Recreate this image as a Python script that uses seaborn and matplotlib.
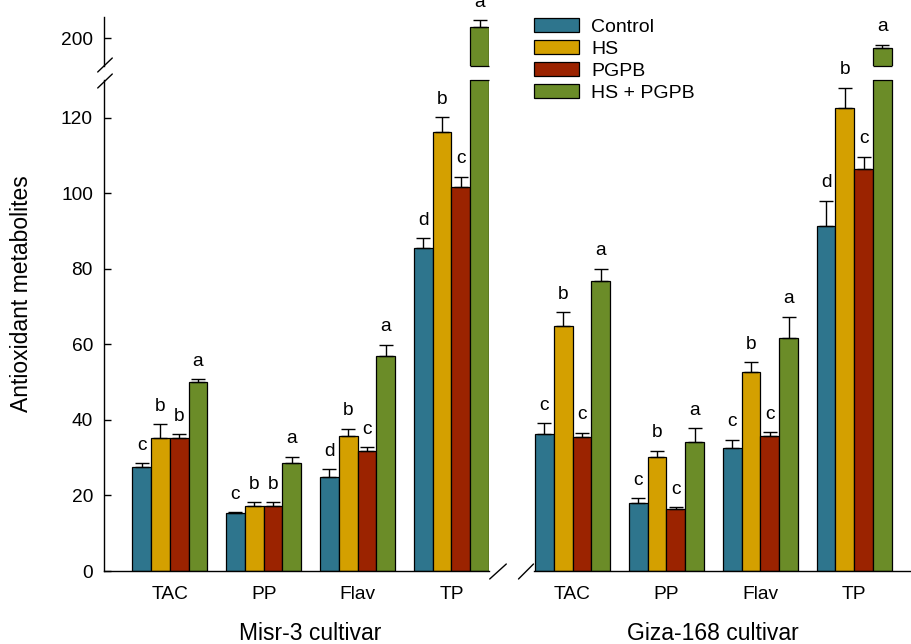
import numpy as np
import pandas as pd
import matplotlib
matplotlib.use("Agg")
import matplotlib.pyplot as plt
from matplotlib.lines import Line2D
from matplotlib.patches import Patch
import seaborn as sns

# ---------------------------------------------------------------- data
metabolites = ["TAC", "PP", "Flav", "TP"]
treatments = ["Control", "HS", "PGPB", "HS + PGPB"]
cultivars = ["Misr-3 cultivar", "Giza-168 cultivar"]

misr_control = [27.6, 15.3, 25.0, 85.5]
misr_hs = [35.3, 17.2, 35.8, 116.1]
misr_pgpb = [35.1, 17.2, 31.7, 101.8]
misr_hs_pgpb = [50.1, 28.7, 56.8, 202.9]

misr_control_se = [0.9, 0.3, 1.9, 2.6]
misr_hs_se = [3.5, 1.0, 1.9, 4.0]
misr_pgpb_se = [1.1, 1.0, 1.1, 2.6]
misr_hs_pgpb_se = [0.7, 1.6, 3.1, 1.9]

misr_control_sig = ["c", "c", "d", "d"]
misr_hs_sig = ["b", "b", "b", "b"]
misr_pgpb_sig = ["b", "b", "c", "c"]
misr_hs_pgpb_sig = ["a", "a", "a", "a"]

giza_control = [36.2, 18.1, 32.6, 91.4]
giza_hs = [64.9, 30.1, 52.7, 122.6]
giza_pgpb = [35.5, 16.4, 35.8, 106.5]
giza_hs_pgpb = [76.9, 34.1, 61.7, 197.3]

giza_control_se = [2.9, 1.15, 2.1, 6.6]
giza_hs_se = [3.6, 1.7, 2.6, 5.3]
giza_pgpb_se = [1.1, 0.5, 1.0, 3.2]
giza_hs_pgpb_se = [3.1, 3.7, 5.6, 0.9]

giza_control_sig = ["c", "c", "c", "d"]
giza_hs_sig = ["b", "b", "b", "b"]
giza_pgpb_sig = ["c", "c", "c", "c"]
giza_hs_pgpb_sig = ["a", "a", "a", "a"]

colors = ["#2E758D", "#D4A000", "#9B2300", "#6B8C28"]

series = {
    "Misr-3 cultivar": (
        [misr_control, misr_hs, misr_pgpb, misr_hs_pgpb],
        [misr_control_se, misr_hs_se, misr_pgpb_se, misr_hs_pgpb_se],
        [misr_control_sig, misr_hs_sig, misr_pgpb_sig, misr_hs_pgpb_sig],
    ),
    "Giza-168 cultivar": (
        [giza_control, giza_hs, giza_pgpb, giza_hs_pgpb],
        [giza_control_se, giza_hs_se, giza_pgpb_se, giza_hs_pgpb_se],
        [giza_control_sig, giza_hs_sig, giza_pgpb_sig, giza_hs_pgpb_sig],
    ),
}

rows = []
for cv, (vals, ses, sigs) in series.items():
    for t, v_list, s_list, g_list in zip(treatments, vals, ses, sigs):
        for m, v, s, g in zip(metabolites, v_list, s_list, g_list):
            rows.append(dict(cultivar=cv, metabolite=m, treatment=t,
                             value=v, se=s, sig=g))
df = pd.DataFrame(rows)

# ---------------------------------------------------------------- style
sns.set_style("white")
plt.rcParams["font.family"] = ["Liberation Sans", "DejaVu Sans"]
plt.rcParams.update({
    "axes.linewidth": 1.0,
    "axes.edgecolor": "black",
    "text.color": "black",
    "axes.labelcolor": "black",
    "xtick.color": "black",
    "ytick.color": "black",
})

W, H = 912, 644
fig = plt.figure(figsize=(W / 100, H / 100), dpi=100)


def rect(x0, x1, ytop, ybot):
    return [x0 / W, 1 - ybot / H, (x1 - x0) / W, (ybot - ytop) / H]


LOW_LIM = (0, 130)
HIGH_LIM = (192.6, 205.6)
panels = {
    "Misr-3 cultivar": dict(x0=104, x1=489, xlim=(-0.70, 3.40), left=True),
    "Giza-168 cultivar": dict(x0=534, x1=912, xlim=(-0.41, 3.615), left=False),
}

TICK_FS = 13.8
bar_w = 0.8 / len(treatments)

for cv, p in panels.items():
    sub = df[df.cultivar == cv]
    ax_lo = fig.add_axes(rect(p["x0"], p["x1"], 80, 571))
    ax_hi = fig.add_axes(rect(p["x0"], p["x1"], 17, 66))
    for ax, lim in ((ax_lo, LOW_LIM), (ax_hi, HIGH_LIM)):
        sns.barplot(data=sub, x="metabolite", y="value", hue="treatment",
                    order=metabolites, hue_order=treatments, palette=colors,
                    saturation=1, edgecolor="black", linewidth=0.9,
                    errorbar=None, width=0.8, legend=False, ax=ax)
        ax.set_xlim(*p["xlim"])
        ax.set_ylim(*lim)
        ax.set_xlabel("")
        ax.set_ylabel("")
        for s in ("top", "right"):
            ax.spines[s].set_visible(False)
        ax.patch.set_alpha(0)

        for j, t in enumerate(treatments):
            d = sub[sub.treatment == t].set_index("metabolite").loc[metabolites]
            xs = np.arange(len(metabolites)) + (j - 1.5) * bar_w
            v = d["value"].to_numpy()
            e = d["se"].to_numpy()
            inside = (v > lim[0]) & (v < lim[1])
            ax.errorbar(xs[inside], v[inside],
                        yerr=[np.zeros(inside.sum()), e[inside]],
                        fmt="none", ecolor="black", elinewidth=1.0,
                        capsize=5, capthick=1.0, zorder=3)
            for x, val, err, g, ok in zip(xs, v, e, d["sig"], inside):
                if ok:
                    ax.annotate(g, xy=(x, val + err), xytext=(0, 9.7),
                                textcoords="offset points", ha="center",
                                va="baseline", fontsize=TICK_FS,
                                annotation_clip=False)
            # closing edge where a tall bar is cut by the axis break
            if ax is ax_lo:
                cut = v > lim[1]
                ax.hlines([lim[1]] * cut.sum(), xs[cut] - bar_w / 2,
                          xs[cut] + bar_w / 2, colors="black",
                          linewidth=0.9, clip_on=False, zorder=3)
            else:
                cut = v > lim[0]
                ax.hlines([lim[0]] * cut.sum(), xs[cut] - bar_w / 2,
                          xs[cut] + bar_w / 2, colors="black",
                          linewidth=0.9, clip_on=False, zorder=3)

    # lower panel axes
    ax_lo.tick_params(axis="x", bottom=False, length=0, labelsize=TICK_FS,
                      pad=11)
    ax_lo.set_xticks(range(len(metabolites)))
    ax_lo.set_xticklabels(metabolites)
    ax_lo.text(1.5, -0.104, cv, transform=ax_lo.get_xaxis_transform(),
               ha="center", va="top", fontsize=16.5)
    # upper panel axes
    ax_hi.spines["bottom"].set_visible(False)
    ax_hi.set_xticks([])
    if p["left"]:
        ax_lo.set_yticks([0, 20, 40, 60, 80, 100, 120])
        ax_lo.tick_params(axis="y", left=True, direction="in", length=5,
                          width=1.0, labelsize=TICK_FS, pad=8)
        ax_hi.set_yticks([200])
        ax_hi.tick_params(axis="y", left=True, direction="in", length=5,
                          width=1.0, labelsize=TICK_FS, pad=8)
    else:
        ax_lo.spines["left"].set_visible(False)
        ax_hi.spines["left"].set_visible(False)
        ax_lo.set_yticks([])
        ax_hi.set_yticks([])


# break marks on the axes
def slash(cx, cy, dx=7.3, dy=7.0):
    fig.add_artist(Line2D([(cx - dx) / W, (cx + dx) / W],
                          [1 - (cy + dy) / H, 1 - (cy - dy) / H],
                          transform=fig.transFigure, color="black",
                          linewidth=1.0))


slash(105, 65)
slash(105, 81)
slash(498, 571.5, dx=8.3, dy=7.5)
slash(526, 571.5, dx=7.5, dy=7.5)

fig.text(22 / W, 1 - 294 / H, "Antioxidant metabolites", rotation=90,
         ha="center", va="center", fontsize=16.5)

handles = [Patch(facecolor=c, edgecolor="black", linewidth=0.9) for c in colors]
fig.legend(handles, treatments, loc="upper left",
           bbox_to_anchor=(534 / W, 1 - 18 / H), frameon=False, fontsize=14,
           handlelength=2.3, handleheight=0.77, handletextpad=0.65,
           labelspacing=0.2, borderpad=0, borderaxespad=0)

fig.savefig("out.png", dpi=100)
